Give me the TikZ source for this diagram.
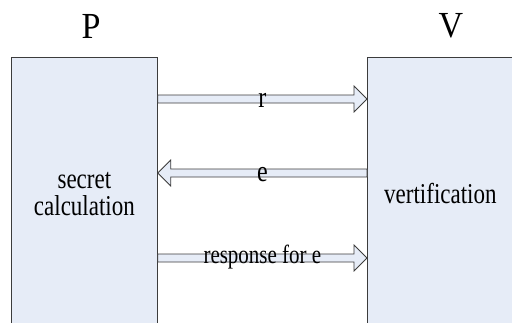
\documentclass[tikz,border=0pt]{standalone}
\usepackage{fontspec}
\setmainfont{Liberation Serif}
\usetikzlibrary{calc}
\definecolor{boxfill}{RGB}{230,236,247}
\definecolor{edge}{RGB}{60,60,60}
\tikzset{
  box/.style={draw=edge, fill=boxfill, line width=0.8pt, rectangle, inner sep=0pt,
    minimum width=146pt, minimum height=273pt, anchor=north west},
  boxtext/.style={inner sep=0pt, align=center, yscale=1.25, transform shape,
    font=\fontsize{23}{21.6}\selectfont},
  blockarrow/.style={draw=edge, fill=boxfill, line width=0.8pt, line join=miter},
  lbl/.style={inner sep=0pt, anchor=base, yscale=1.25, transform shape,
    font=\fontsize{24}{25}\selectfont},
  actor/.style={inner sep=0pt, yscale=1.08, transform shape, font=\fontsize{34}{40}\selectfont}
}
\begin{document}
\begin{tikzpicture}[x=1pt,y=-1pt]
\useasboundingbox (0,0) rectangle (512,322);
\clip (0,0) rectangle (512,322);
\node[box] (L) at (11,57) {};
\node[box] (R) at (367,57) {};
\node[boxtext] (Lt) at ($(L.center)+(0,0)$) {secret\\calculation};
\node[boxtext] (Rt) at ($(R.center)+(0,0)$) {vertification};
\node[actor] (P) at (91,26) {P};
\node[actor] (V) at (451,26) {V};
\coordinate (y1) at (0,99);
\coordinate (y2) at (0,173);
\coordinate (y3) at (0,258);
\coordinate (a1) at (L.east |- y1);
\coordinate (b1) at (R.west |- y1);
\coordinate (a2) at (L.east |- y2);
\coordinate (b2) at (R.west |- y2);
\coordinate (a3) at (L.east |- y3);
\coordinate (b3) at (R.west |- y3);
% r : P -> V
\draw[blockarrow] ($(a1)+(0,-4)$) -- ($(b1)+(-13,-4)$) -- ($(b1)+(-13,-13)$) -- (b1)
  -- ($(b1)+(-13,13)$) -- ($(b1)+(-13,4)$) -- ($(a1)+(0,4)$) -- cycle;
% e : V -> P
\draw[blockarrow] ($(b2)+(0,-4)$) -- ($(a2)+(13,-4)$) -- ($(a2)+(13,-13)$) -- (a2)
  -- ($(a2)+(13,13)$) -- ($(a2)+(13,4)$) -- ($(b2)+(0,4)$) -- cycle;
% response : P -> V
\draw[blockarrow] ($(a3)+(0,-4)$) -- ($(b3)+(-13,-4)$) -- ($(b3)+(-13,-13)$) -- (b3)
  -- ($(b3)+(-13,13)$) -- ($(b3)+(-13,4)$) -- ($(a3)+(0,4)$) -- cycle;
\node[lbl] (rl) at ($(a1)!0.5!(b1)+(0,8.5)$) {r};
\node[lbl] (el) at ($(a2)!0.5!(b2)+(0,8.5)$) {e};
\node[lbl, font=\fontsize{21}{24}\selectfont] (resp) at ($(a3)!0.5!(b3)+(0,5)$) {response for e};
\end{tikzpicture}
\end{document}
